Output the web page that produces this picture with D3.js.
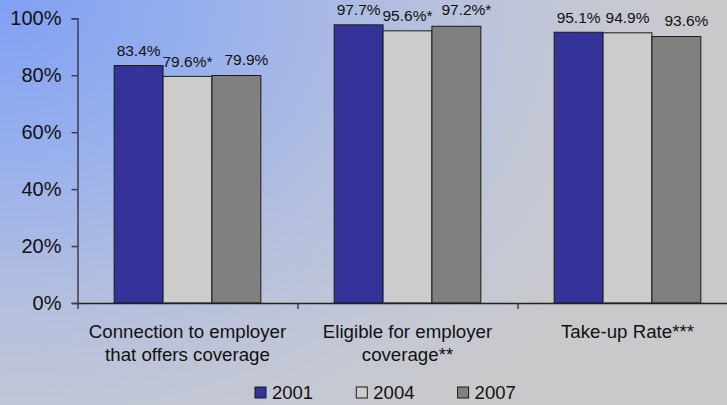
<!DOCTYPE html>
<html>
<head>
<meta charset="utf-8">
<script src="https://cdn.jsdelivr.net/npm/d3@7"></script>
<style>
  html, body { margin: 0; padding: 0; overflow: hidden; }
  svg { display: block; font-family: "Liberation Sans", Arial, sans-serif; }
</style>
</head>
<body>
<svg width="727" height="405"></svg>
<script>
// Data
const categories = [
  ["Connection to employer", "that offers coverage"],
  ["Eligible for employer", "coverage**"],
  ["Take-up Rate***"],
];
const years = ["2001", "2004", "2007"];
const values2001 = [0.834, 0.977, 0.951];
const values2004 = [0.796, 0.956, 0.949];
const values2007 = [0.799, 0.972, 0.936];
const labels2001 = ["83.4%", "97.7%", "95.1%"];
const labels2004 = ["79.6%*", "95.6%*", "94.9%"];
const labels2007 = ["79.9%", "97.2%*", "93.6%"];
const yTicks = [0, 0.2, 0.4, 0.6, 0.8, 1];

const series = [values2001, values2004, values2007];
const seriesLabels = [labels2001, labels2004, labels2007];
const colors = ["#333399", "#cccccc", "#808080"];

const svg = d3.select("svg"),
  width = 727,
  height = 405;

// Background gradient
const defs = svg.append("defs");
const grad = defs
  .append("radialGradient")
  .attr("id", "bg")
  .attr("gradientUnits", "userSpaceOnUse")
  .attr("cx", 0)
  .attr("cy", 0)
  .attr("r", 700)
  .attr("gradientTransform", "scale(1,0.75)");
[
  [0, "#80a0f4"],
  [0.3, "#98b0ec"],
  [0.6, "#b6c0de"],
  [0.85, "#c5c8d3"],
  [1, "#c9c9cc"],
].forEach(([o, c]) => grad.append("stop").attr("offset", o).attr("stop-color", c));

svg.append("rect").attr("width", width).attr("height", height).attr("fill", "url(#bg)");

// Scales
const x0 = d3
  .scaleBand()
  .domain(d3.range(categories.length))
  .range([77.5, 737.5]);

const x1 = d3
  .scaleBand()
  .domain(years)
  .range([0, x0.bandwidth()])
  .paddingInner(0)
  .paddingOuter(0.75);

const y = d3.scaleLinear().domain([0, 1]).range([303, 18.3]);

const axisColor = "#3c3c4c";

// Bars
const groups = svg
  .append("g")
  .selectAll("g")
  .data(categories)
  .join("g")
  .attr("transform", (d, i) => `translate(${x0(i)},0)`);

groups
  .selectAll("rect")
  .data((d, i) => years.map((yr, s) => ({ yr, s, v: series[s][i], label: seriesLabels[s][i] })))
  .join("rect")
  .attr("x", (d) => x1(d.yr))
  .attr("y", (d) => y(d.v))
  .attr("width", x1.bandwidth())
  .attr("height", (d) => y(0) - y(d.v))
  .attr("fill", (d) => colors[d.s])
  .attr("stroke", "#1a1a1a")
  .attr("stroke-width", 1);

// Value labels
groups
  .selectAll("text")
  .data((d, i) => years.map((yr, s) => ({ yr, s, v: series[s][i], label: seriesLabels[s][i] })))
  .join("text")
  .attr("x", (d) => x1(d.yr) + x1.bandwidth() / 2 + (d.s === 2 ? 10 : 0))
  .attr("y", (d) => y(d.v) - (d.s === 2 ? 11 : 9.5))
  .attr("text-anchor", "middle")
  .attr("font-size", "15.5px")
  .attr("fill", "#111")
  .text((d) => d.label);

// Y axis
const yAxis = svg
  .append("g")
  .attr("transform", `translate(${x0.range()[0]},0)`)
  .call(
    d3
      .axisLeft(y)
      .tickValues(yTicks)
      .tickSize(6)
      .tickPadding(10)
      .tickFormat(d3.format(".0%"))
  );
yAxis.select(".domain").attr("stroke", axisColor).attr("stroke-width", 1.5);
yAxis.selectAll(".tick line").attr("stroke", axisColor).attr("stroke-width", 1.5);
yAxis
  .selectAll(".tick text")
  .attr("font-family", "Liberation Sans, Arial, sans-serif")
  .attr("font-size", "20px")
  .attr("fill", "#111");

// X axis
const xAxis = svg
  .append("g")
  .attr("transform", `translate(0,${y(0)})`)
  .call(
    d3
      .axisBottom(d3.scaleLinear().domain([0, 3]).range(x0.range()))
      .tickValues([0, 1, 2, 3])
      .tickSize(6)
      .tickSizeOuter(0)
      .tickFormat("")
  );
xAxis.select(".domain").attr("stroke", "#222").attr("stroke-width", 1.5);
xAxis.selectAll(".tick line").attr("stroke", axisColor).attr("stroke-width", 1.5);

// Category labels
svg
  .append("g")
  .selectAll("text")
  .data(categories)
  .join("text")
  .attr("x", (d, i) => x0(i) + x0.bandwidth() / 2)
  .attr("y", 337.7)
  .attr("text-anchor", "middle")
  .attr("font-size", "18.7px")
  .attr("fill", "#111")
  .selectAll("tspan")
  .data((d) => d)
  .join("tspan")
  .attr("x", function () {
    return this.parentNode.getAttribute("x");
  })
  .attr("dy", (d, i) => (i === 0 ? 0 : 23.3))
  .text((d) => d);

// Legend
const legend = svg
  .append("g")
  .selectAll("g")
  .data(years)
  .join("g")
  .attr("transform", (d, i) => `translate(${255 + i * 101.3},387)`);

legend
  .append("rect")
  .attr("width", 11)
  .attr("height", 11)
  .attr("fill", (d, i) => colors[i])
  .attr("stroke", "#1a1a1a")
  .attr("stroke-width", 1);

legend
  .append("text")
  .attr("x", 17)
  .attr("y", 12)
  .attr("font-size", "18.5px")
  .attr("fill", "#111")
  .text((d) => d);
</script>
</body>
</html>
